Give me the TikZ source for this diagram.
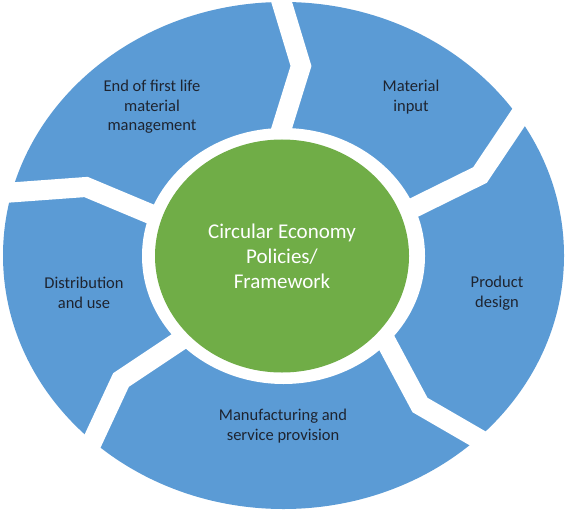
\documentclass[tikz,border=0pt]{standalone}
\usepackage{fontspec}
\setmainfont{Carlito}
\usetikzlibrary{shapes.geometric}
\definecolor{segblue}{HTML}{5B9BD5}
\definecolor{hubgreen}{HTML}{70AD47}
\definecolor{lbltext}{HTML}{1E2430}
\begin{document}
\begin{tikzpicture}[x=1pt,y=-1pt,
  gapline/.style={draw=white, line width=20pt, line join=miter, miter limit=10},
  lbl/.style={align=center, font=\fontsize{16.5}{19.5}\selectfont, text=lbltext, inner sep=0pt},
  disc/.style={ellipse, inner sep=0pt}]
\useasboundingbox (0,0) rectangle (569,513);
\fill[white] (0,0) rectangle (569,513);
\node[disc, fill=segblue, minimum width=561pt, minimum height=507pt] (outer) at (283.5,255.5) {};
% white gaps between the segments
\draw[gapline] (278,-10) -- (301,66) -- (278,140);
\draw[gapline] (535,93) -- (480,175) -- (405,212);
\draw[gapline] (515,460) -- (420,405) -- (382,334);
\draw[gapline] (80,468) -- (121,380) -- (190,334);
\draw[gapline] (-10,194) -- (86,187) -- (160,218);
\node[disc, fill=white, minimum width=283pt, minimum height=256pt] (ring) at (283.5,256) {};
\node[disc, fill=hubgreen, minimum width=254pt, minimum height=233pt] (hub) at (282,256) {};
\node[align=center, text=white, font=\fontsize{21}{25}\selectfont, inner sep=0pt] (hubtext) at (hub.center) {Circular Economy\\Policies/\\Framework};
\node[lbl] (eol) at (152,107) {End of first life\\material\\management};
\node[lbl] (mat) at (411,97) {Material\\input};
\node[lbl] (prod) at (497,293) {Product\\design};
\node[lbl] (manu) at (283,426) {Manufacturing and\\service provision};
\node[lbl] (dist) at (84,293) {Distribution\\and use};
\end{tikzpicture}
\end{document}
